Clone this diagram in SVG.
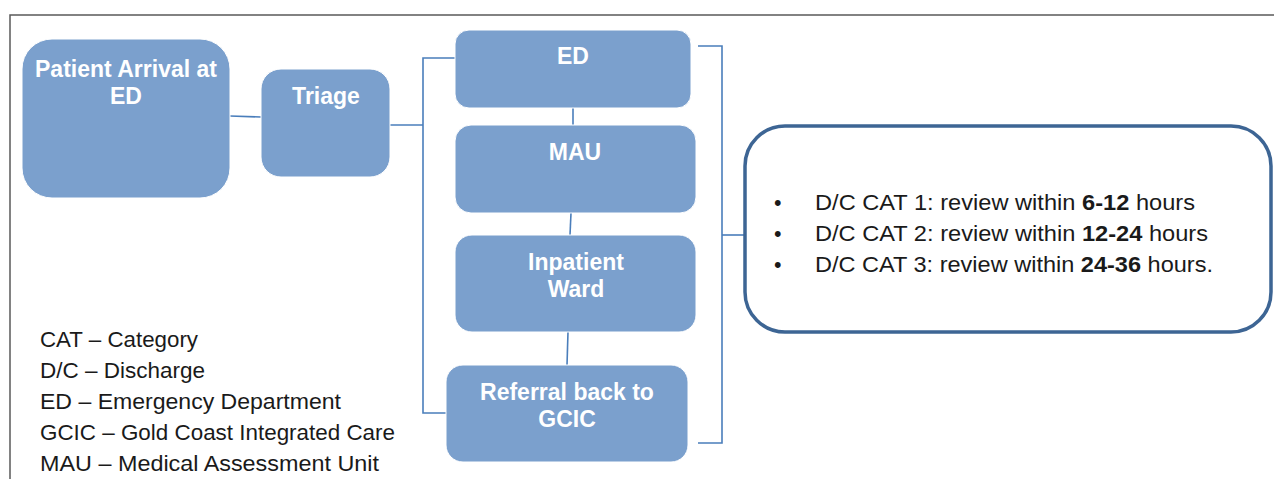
<svg xmlns="http://www.w3.org/2000/svg" width="1274" height="479" viewBox="0 0 1274 479">
<style>
.node{fill:#7ba0cd;stroke:#ffffff;stroke-width:1}
.nt{font-family:"Liberation Sans",Arial,sans-serif;font-weight:bold;font-size:23px;fill:#ffffff;text-anchor:middle}
.con{stroke:#4a7ebb;stroke-width:1.6;fill:none}
.frame{stroke:#5a5a5a;stroke-width:1.5;fill:none}
.leg{font-family:"Liberation Sans",Arial,sans-serif;font-size:21.5px;fill:#1a1a1a}
.bt{font-family:"Liberation Sans",Arial,sans-serif;font-size:21.5px;fill:#1a1a1a}
</style>
<rect x="0" y="0" width="1274" height="479" fill="#ffffff"/>
<g id="frame">
<polyline class="frame" points="10,479 10,15 1274,15"/>
</g>
<g id="connectors">
<line class="con" x1="230" y1="116" x2="261" y2="117"/>
<line class="con" x1="390" y1="125" x2="423" y2="125"/>
<polyline class="con" points="455,58 423,58 423,413 446,413"/>
<line class="con" x1="573" y1="108" x2="573" y2="125"/>
<line class="con" x1="571" y1="213" x2="570" y2="235"/>
<line class="con" x1="568" y1="332" x2="567" y2="365"/>
<polyline class="con" points="698,46 722,46 722,443 698,443"/>
<line class="con" x1="722" y1="235" x2="746" y2="235"/>
</g>
<g id="patient-arrival">
<rect class="node" x="22" y="39" width="208" height="159" rx="30"/>
<text class="nt" x="126" y="77">Patient Arrival at</text>
<text class="nt" x="126" y="104">ED</text>
</g>
<g id="triage">
<rect class="node" x="261" y="69" width="129" height="108" rx="20"/>
<text class="nt" x="326" y="104">Triage</text>
</g>
<g id="ed">
<rect class="node" x="455" y="30" width="236" height="78" rx="14"/>
<text class="nt" x="573" y="64">ED</text>
</g>
<g id="mau">
<rect class="node" x="455" y="125" width="241" height="88" rx="16"/>
<text class="nt" x="575" y="160">MAU</text>
</g>
<g id="inpatient-ward">
<rect class="node" x="455" y="235" width="241" height="97" rx="17"/>
<text class="nt" x="576" y="270">Inpatient</text>
<text class="nt" x="576" y="297">Ward</text>
</g>
<g id="referral">
<rect class="node" x="446" y="365" width="242" height="97" rx="17"/>
<text class="nt" x="567" y="400">Referral back to</text>
<text class="nt" x="567" y="427">GCIC</text>
</g>
<g id="review-box">
<rect x="745" y="126" width="526" height="206" rx="40" fill="#ffffff" stroke="#3d6594" stroke-width="3.5"/>
<text class="bt" x="774" y="210">•</text>
<text class="bt" x="774" y="241">•</text>
<text class="bt" x="774" y="272">•</text>
<text class="bt" x="815" y="210" textLength="380" lengthAdjust="spacingAndGlyphs">D/C CAT 1: review within <tspan font-weight="bold">6-12</tspan> hours</text>
<text class="bt" x="815" y="241" textLength="393" lengthAdjust="spacingAndGlyphs">D/C CAT 2: review within <tspan font-weight="bold">12-24</tspan> hours</text>
<text class="bt" x="815" y="272" textLength="398" lengthAdjust="spacingAndGlyphs">D/C CAT 3: review within <tspan font-weight="bold">24-36</tspan> hours.</text>
</g>
<g id="legend">
<text class="leg" x="40" y="347" textLength="158" lengthAdjust="spacingAndGlyphs">CAT – Category</text>
<text class="leg" x="40" y="378" textLength="165" lengthAdjust="spacingAndGlyphs">D/C – Discharge</text>
<text class="leg" x="40" y="409" textLength="301" lengthAdjust="spacingAndGlyphs">ED – Emergency Department</text>
<text class="leg" x="40" y="440" textLength="355" lengthAdjust="spacingAndGlyphs">GCIC – Gold Coast Integrated Care</text>
<text class="leg" x="40" y="471" textLength="339" lengthAdjust="spacingAndGlyphs">MAU – Medical Assessment Unit</text>
</g>
</svg>
